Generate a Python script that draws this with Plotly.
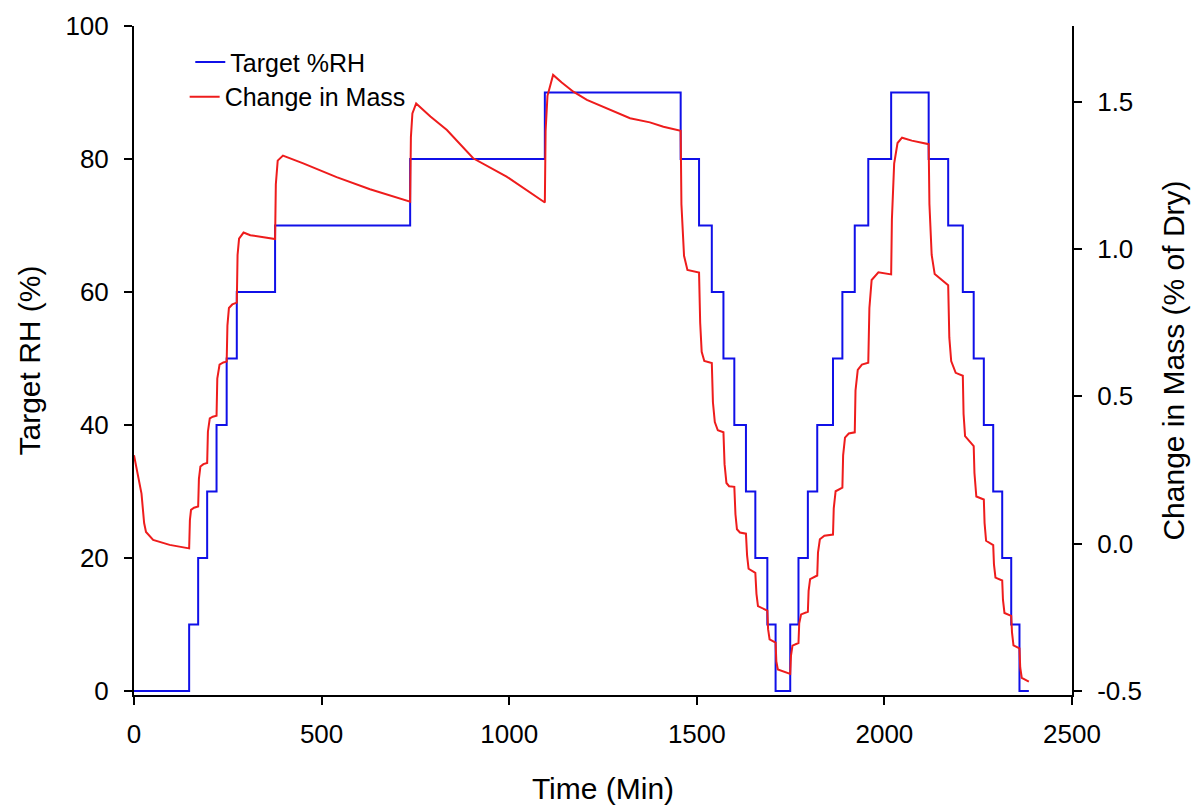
import plotly.graph_objects as go

# Target %RH step schedule (time in min, value held until next time)
rh_time = [0, 147, 171, 195, 220, 247, 274, 376, 736, 1095, 1457, 1506, 1540, 1571, 1600,
           1631, 1656, 1688, 1710, 1749, 1771, 1796, 1821, 1863, 1888, 1921, 1957, 2018,
           2118, 2170, 2209, 2238, 2265, 2290, 2314, 2338, 2360, 2385]
rh_value = [0, 10, 20, 30, 40, 50, 60, 70, 80, 90, 80, 70, 60, 50, 40,
            30, 20, 10, 0, 10, 20, 30, 40, 50, 60, 70, 80, 90,
            80, 70, 60, 50, 40, 30, 20, 10, 0, 0]

# Change in mass (% of dry)
mass_time = [0, 8, 20, 27, 32, 51, 95, 147, 149, 152, 160, 171, 173, 177, 185, 195, 197, 202, 210,
             220, 222, 228, 238, 247, 249, 253, 262, 274, 276, 280, 292, 310, 340, 376, 378, 383,
             397, 451, 540, 629, 736, 738, 742, 752, 790, 834, 904, 993, 1095, 1097, 1102, 1117,
             1140, 1171, 1207, 1260, 1322, 1375, 1411, 1457, 1459, 1466, 1475, 1506, 1509, 1513,
             1520, 1540, 1543, 1548, 1556, 1571, 1574, 1579, 1586, 1600, 1603, 1607, 1615, 1631,
             1634, 1638, 1656, 1659, 1663, 1688, 1690, 1694, 1710, 1712, 1716, 1749, 1751, 1755,
             1771, 1773, 1778, 1796, 1798, 1802, 1821, 1823, 1828, 1840, 1863, 1865, 1870, 1888,
             1890, 1895, 1905, 1921, 1923, 1929, 1940, 1957, 1960, 1966, 1984, 2018, 2020, 2026,
             2035, 2047, 2073, 2118, 2120, 2126, 2134, 2170, 2173, 2178, 2190, 2209, 2211, 2215,
             2238, 2240, 2245, 2265, 2267, 2271, 2290, 2292, 2296, 2314, 2316, 2320, 2338, 2340,
             2344, 2360, 2362, 2366, 2385]
mass_value = [0.30, 0.25, 0.17, 0.07, 0.04, 0.013, -0.004, -0.016, 0.08, 0.115, 0.122, 0.126, 0.22,
              0.262, 0.270, 0.274, 0.38, 0.425, 0.431, 0.434, 0.56, 0.608, 0.615, 0.618, 0.74, 0.80,
              0.812, 0.818, 0.98, 1.035, 1.056, 1.047, 1.04, 1.034, 1.22, 1.30, 1.317, 1.291, 1.244,
              1.203, 1.161, 1.38, 1.46, 1.494, 1.45, 1.404, 1.308, 1.246, 1.158, 1.40, 1.52, 1.591,
              1.565, 1.534, 1.506, 1.477, 1.444, 1.43, 1.415, 1.401, 1.152, 0.977, 0.929, 0.920,
              0.75, 0.651, 0.62, 0.613, 0.48, 0.413, 0.385, 0.378, 0.27, 0.206, 0.195, 0.193, 0.10,
              0.049, 0.038, 0.034, -0.04, -0.085, -0.099, -0.17, -0.212, -0.227, -0.29, -0.325,
              -0.336, -0.40, -0.427, -0.442, -0.38, -0.346, -0.337, -0.27, -0.24, -0.231, -0.16,
              -0.12, -0.108, -0.03, 0.015, 0.027, 0.031, 0.12, 0.178, 0.19, 0.30, 0.36, 0.374, 0.378,
              0.52, 0.59, 0.608, 0.614, 0.80, 0.895, 0.921, 0.914, 1.10, 1.29, 1.36, 1.378, 1.368,
              1.356, 1.153, 0.98, 0.915, 0.877, 0.70, 0.62, 0.58, 0.57, 0.44, 0.365, 0.331, 0.24,
              0.16, 0.15, 0.07, 0.01, -0.005, -0.07, -0.115, -0.125, -0.19, -0.235, -0.245, -0.30,
              -0.345, -0.355, -0.42, -0.455, -0.468]

x_ticks = [0, 500, 1000, 1500, 2000, 2500]
y_ticks = [0, 20, 40, 60, 80, 100]
y2_ticks = [-0.5, 0.0, 0.5, 1.0, 1.5]
y2_labels = ["-0.5", "0.0", "0.5", "1.0", "1.5"]

FONT = "Liberation Sans, Arial, sans-serif"

fig = go.Figure()
fig.add_trace(go.Scatter(x=rh_time, y=rh_value, mode="lines", name="Target %RH",
                         line=dict(color="#1010e8", width=2, shape="hv"),
                         legend="legend"))
fig.add_trace(go.Scatter(x=mass_time, y=mass_value, mode="lines", name="Change in Mass",
                         line=dict(color="#ee1c1c", width=2), yaxis="y2",
                         legend="legend2"))

axis_common = dict(showline=True, linecolor="black", linewidth=2, ticks="outside",
                   ticklen=8, tickwidth=2, tickcolor="black", showgrid=False,
                   zeroline=False, automargin=False,
                   tickfont=dict(family=FONT, size=26, color="black"))

# page body has an 8px default margin, so the figure is sized/offset to compensate
fig.update_layout(
    width=1193, height=801,
    margin=dict(l=126, r=129, t=18, b=114),
    paper_bgcolor="white", plot_bgcolor="white",
    font=dict(family=FONT, color="black"),
    xaxis=dict(range=[0, 2500], tickvals=x_ticks, ticklabelstandoff=7,
               title=dict(text="Time (Min)", font=dict(family=FONT, size=30), standoff=30),
               **axis_common),
    yaxis=dict(range=[-0.6, 100], tickvals=y_ticks, ticklabelstandoff=10,
               title=dict(text="Target RH (%)", font=dict(family=FONT, size=30), standoff=16),
               **axis_common),
    yaxis2=dict(range=[-0.5135, 1.757], tickvals=y2_ticks, ticktext=y2_labels,
                overlaying="y", side="right", anchor="x", ticklabelstandoff=10,
                title=dict(text="Change in Mass (% of Dry)", font=dict(family=FONT, size=30),
                           standoff=22),
                **axis_common),
    legend=dict(x=0.06, y=0.946, xanchor="left", yanchor="middle",
                bgcolor="rgba(0,0,0,0)", font=dict(family=FONT, size=25)),
    legend2=dict(x=0.054, y=0.894, xanchor="left", yanchor="middle",
                 bgcolor="rgba(0,0,0,0)", font=dict(family=FONT, size=25)),
    showlegend=True,
)

fig.write_html("out.html")
